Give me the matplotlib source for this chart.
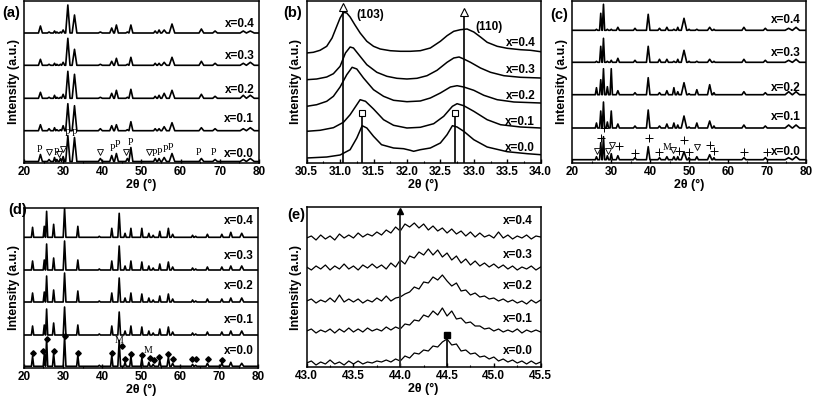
import numpy as np
import matplotlib
matplotlib.use("Agg")
from matplotlib import pyplot as plt

plt.rcParams['font.family'] = ['Liberation Sans', 'DejaVu Sans']

comps = ["x=0.4", "x=0.3", "x=0.2", "x=0.1", "x=0.0"]

# ---------- panel (a): peak positions, widths and heights for each x ----------
pos_a = [24.2, 26.4, 27.8, 28.4, 29.3, 30.0, 31.2, 32.9, 39.5, 42.4, 43.6,
         46.4, 47.3, 53.5, 54.5, 55.8, 57.8, 65.3, 68.8, 76.0, 77.8]
wid_a = [0.5, 0.4, 0.3, 0.3, 0.3, 0.4, 0.55, 0.6, 0.5, 0.5, 0.5,
         0.4, 0.5, 0.4, 0.4, 0.6, 0.7, 0.6, 0.6, 0.8, 1.0]
hts_a = [
    [7, 1, 2, 1, 1, 3, 28, 18, 1, 5, 8, 1, 8, 2, 3, 3, 9, 4, 2, 2, 2],
    [6, 1, 2, 1, 1, 3, 27, 16, 1, 4, 7, 1, 8, 2, 2, 3, 8, 4, 2, 2, 3],
    [6, 1, 3, 1, 1, 4, 27, 24, 1, 5, 8, 1, 9, 2, 3, 5, 8, 4, 2, 3, 3],
    [6, 2, 3, 1, 1, 5, 27, 25, 2, 5, 6, 1, 9, 2, 2, 4, 8, 3, 2, 2, 3],
    [7, 2, 4, 2, 3, 5, 26, 24, 3, 6, 8, 3, 14, 3, 3, 4, 8, 3, 2, 2, 3],
]
base_a = [130, 97.7, 64.7, 32.3, 1.5]
lab_a = [139, 107, 73, 44, 9]
mk_a_x = [24.0, 26.5, 28.2, 29.0, 29.9, 31.1, 32.8, 39.4, 42.5, 43.8, 46.0,
          47.2, 52.0, 53.2, 54.5, 56.0, 57.3, 64.6, 68.3]
mk_a_y = [12, 9.4, 9, 8, 12.7, 27.7, 27.7, 10, 12.7, 16.7, 10,
          18.7, 9.4, 7.7, 9.4, 12, 14.4, 9.4, 9.4]
mk_a_s = ["P", "v", "P", "v", "v", "P", "P", "v", "P", "P", "v",
          "P", "v", "P", "P", "P", "P", "P", "P"]

# ---------- panel (b): traced curves ----------
bx = [
    [30.5, 30.6, 30.7, 30.8, 30.88, 30.95, 31.0, 31.05, 31.1, 31.15, 31.22, 31.3,
     31.4, 31.5, 31.6, 31.75, 31.9, 32.05, 32.2, 32.35, 32.5, 32.6, 32.7, 32.8,
     32.9, 33.0, 33.1, 33.2, 33.35, 33.5, 33.7, 33.85, 34.0],
    [30.5, 30.65, 30.8, 30.9, 31.0, 31.08, 31.15, 31.2, 31.28, 31.4, 31.55, 31.7,
     31.85, 32.0, 32.15, 32.3, 32.45, 32.6, 32.7, 32.78, 32.85, 32.95, 33.1,
     33.25, 33.45, 33.7, 34.0],
    [30.5, 30.65, 30.8, 30.9, 31.0, 31.1, 31.18, 31.25, 31.35, 31.5, 31.65, 31.8,
     32.0, 32.2, 32.35, 32.5, 32.65, 32.75, 32.85, 33.0, 33.15, 33.35, 33.6, 34.0],
    [30.5, 30.7, 30.9, 31.05, 31.15, 31.25, 31.3, 31.38, 31.5, 31.65, 31.8, 32.0,
     32.2, 32.4, 32.55, 32.68, 32.75, 32.85, 33.0, 33.2, 33.4, 33.7, 34.0],
    [30.5, 30.8, 31.0, 31.15, 31.25, 31.33, 31.4, 31.5, 31.62, 31.8, 31.95, 32.05,
     32.1, 32.2, 32.35, 32.5, 32.6, 32.68, 32.75, 32.85, 33.0, 33.2, 33.5, 33.8, 34.0],
]
by = [
    [110, 110.7, 112.7, 116.7, 125, 136.7, 145, 150.7, 150, 146, 138.3, 130,
     121.7, 116.7, 114, 112.3, 111.7, 111.7, 112.3, 115, 121.7, 127.3, 131.7, 133.3,
     134, 131, 126, 120.7, 116.7, 114.7, 113.3, 112.7, 111.3],
    [83.3, 84, 86, 89.3, 96.7, 110, 116, 115, 108.3, 98.3, 90.7, 86.7,
     84.7, 84, 84.7, 87.3, 92.7, 100.7, 105, 106, 104, 100.7, 95,
     90.7, 87.3, 85.7, 85],
    [56.7, 58.3, 61.7, 66.7, 76, 88.3, 95.7, 94, 85, 73.3, 66.7, 62.7,
     61.3, 62, 65, 70, 76, 77.3, 76, 72.7, 67.7, 63.3, 61, 60],
    [31.7, 32.7, 35.3, 40.7, 48.3, 58.3, 63.3, 61.7, 54, 43.3, 37.7, 35,
     35.7, 39.3, 46.7, 56.7, 59.3, 57.3, 51.7, 43.3, 38.3, 36, 35],
    [5, 6, 8, 13.3, 25, 37.3, 35, 26.7, 18.3, 15, 14.3, 12.7,
     11.7, 13.3, 15, 20, 28.3, 37.3, 36, 31.7, 23.3, 16, 11.3, 9.3, 8.3],
]
lab_b = [120, 92.7, 66.7, 40.7, 15]

# ---------- panel (c) ----------
pos_c = [26.2, 27.3, 28.0, 29.0, 30.0, 31.7, 36.1, 39.5, 42.4, 44.3, 46.1,
         47.1, 48.7, 50.0, 52.0, 55.3, 56.4, 64.1, 69.6, 75.6, 77.5]
wid_c = [0.3, 0.3, 0.3, 0.3, 0.3, 0.4, 0.4, 0.45, 0.4, 0.4, 0.35,
         0.3, 0.7, 0.3, 0.4, 0.55, 0.3, 0.5, 0.5, 0.9, 0.9]
hts_c = [
    [1, 17, 26, 1, 1, 3, 2, 16, 2, 3, 1, 3, 12, 1, 1, 3, 1, 3, 2, 2, 3],
    [1, 16, 24, 1, 2, 4, 2, 16, 3, 3, 1, 3, 12, 1, 1, 3, 1, 3, 2, 2, 3],
    [7, 15, 26, 8, 26, 4, 2, 17, 2, 4, 7, 3, 12, 1, 5, 10, 2, 3, 2, 3, 3],
    [5, 17, 26, 6, 17, 4, 2, 18, 2, 4, 5, 3, 12, 1, 5, 7, 2, 3, 2, 3, 3],
    [3, 17, 23, 4, 6, 4, 2, 13, 2, 3, 3, 3, 8, 2, 3, 5, 2, 2, 2, 2, 3],
]
base_c = [132.7, 100.7, 68.3, 35, 3.3]
lab_c = [142.7, 110, 75, 46, 10.7]
mk_c_x = [26.3, 27.3, 28.2, 29.1, 30.1, 32.1, 36.1, 39.6, 42.4, 44.3, 46.0,
          47.3, 48.8, 50.1, 52.0, 55.4, 56.4, 64.0, 70.0]
mk_c_y = [8.3, 21.7, 31.7, 8.3, 15, 13.3, 6.7, 21.7, 7.7, 12.7, 10,
          8.3, 20, 7.7, 12.7, 15, 8.3, 7.3, 7.3]
mk_c_s = ["v", "+", "+", "v", "v", "+", "+", "+", "+", "M", "v",
          "+", "+", "+", "v", "+", "+", "+", "+"]

# ---------- panel (d) ----------
pos_d = [22.2, 25.2, 25.8, 27.6, 30.4, 33.8, 39.3, 42.5, 44.4, 45.9, 47.4, 50.2,
         52.0, 53.1, 54.8, 57.0, 58.1, 63.2, 64.0, 67.0, 70.7, 73.0, 75.8]
wid_d = [0.3, 0.28, 0.28, 0.3, 0.35, 0.3, 0.3, 0.3, 0.35, 0.3, 0.3, 0.3,
         0.3, 0.3, 0.3, 0.35, 0.35, 0.3, 0.3, 0.35, 0.35, 0.4, 0.5]
hts_d = [
    [10, 11, 26, 13, 29, 11, 1, 9, 24, 4, 9, 9, 4, 2, 6, 9, 3, 2, 1, 3, 3, 5, 4],
    [9, 10, 26, 12, 29, 10, 1, 9, 24, 4, 9, 8, 4, 2, 6, 8, 3, 2, 1, 3, 3, 4, 4],
    [9, 10, 26, 12, 29, 11, 1, 9, 24, 4, 9, 8, 4, 2, 6, 8, 3, 2, 1, 3, 3, 4, 4],
    [9, 10, 26, 12, 28, 10, 1, 9, 23, 4, 9, 8, 4, 2, 6, 8, 3, 2, 1, 3, 3, 4, 4],
    [10, 12, 28, 13, 30, 11, 1, 11, 26, 4, 10, 8, 4, 2, 6, 9, 3, 2, 1, 3, 3, 4, 3],
]
base_d = [130.7, 98, 66, 33, 1.7]
lab_d = [146.7, 112.3, 81.7, 48.3, 17.3]
dia_x = [22.2, 25.0, 25.8, 27.6, 30.4, 33.8, 42.5, 45.1, 46.0, 47.4, 50.2, 52.3,
         53.2, 54.7, 56.9, 58.1, 63.0, 64.0, 67.2, 70.8]
dia_y = [13.3, 15.7, 27.7, 15, 30, 13.3, 13.3, 20, 7.7, 12.3, 11.7, 8.3,
         6, 9, 12.3, 7.3, 7.3, 7.3, 7.3, 6.7]
m_d_x = [44.3, 51.9]
m_d_y = [25.7, 15.7]

# ---------- panel (e): traced noisy curves, 43.0 to 45.5 every 0.05 ----------
ex = np.linspace(43.0, 45.5, 51)
ey = [
    [129, 131, 127, 132, 128, 131, 127, 133, 129, 132, 129,
     134, 130, 133, 131, 135, 132, 137, 134, 140, 136,
     143, 140, 144, 139, 143, 137, 141, 136, 139, 134,
     138, 133, 136, 131, 135, 130, 134, 130, 132, 129,
     135, 129, 132, 128, 131, 129, 132, 128, 131, 130],
    [100, 97, 101, 98, 102, 97, 101, 98, 103, 98, 101,
     97, 102, 99, 103, 99, 102, 98, 104, 100, 107,
     103, 111, 109, 115, 112, 118, 112, 117, 110, 114,
     107, 111, 104, 108, 102, 106, 101, 104, 100, 103,
     99, 102, 98, 101, 97, 100, 98, 101, 97, 100],
    [66, 68, 64, 67, 65, 69, 65, 72, 65, 68, 65,
     68, 64, 67, 65, 69, 66, 71, 66, 69, 70,
     73, 75, 80, 78, 85, 84, 90, 87, 92, 86,
     81, 84, 76, 77, 72, 74, 70, 71, 68, 69,
     66, 68, 65, 67, 64, 66, 63, 67, 64, 67],
    [36, 38, 34, 37, 35, 38, 34, 38, 35, 39, 35,
     38, 35, 39, 36, 38, 36, 40, 37, 40, 38,
     43, 42, 47, 46, 52, 50, 56, 52, 59, 51,
     56, 48, 49, 44, 45, 41, 41, 38, 39, 36,
     38, 35, 37, 35, 38, 34, 37, 35, 37, 35],
    [4, 6, 2, 5, 3, 7, 3, 5, 2, 6, 3,
     6, 3, 5, 4, 6, 5, 7, 5, 8, 6,
     11, 9, 14, 13, 17, 16, 21, 20, 25, 28,
     22, 23, 16, 17, 13, 14, 10, 11, 8, 10,
     6, 8, 5, 7, 4, 6, 3, 6, 3, 5],
]
lab_e = [145.7, 112.3, 80.7, 48.3, 16.3]


def sticks(pos, wid, hts, lo, hi):
    xs, ys = [lo], [0]
    for p, w, h in sorted(zip(pos, wid, hts)):
        xs += [p - w, p, p + w]
        ys += [0, h, 0]
    xs.append(hi)
    ys.append(0)
    return np.array(xs), np.array(ys)


def setup(ax, xlim, major, minor, ylim, fmt):
    ax.set_xlim(xlim)
    ax.set_ylim(ylim)
    ax.set_xticks(major)
    ax.set_xticks(minor, minor=True)
    ax.set_xticklabels([fmt % v for v in major], fontweight='bold', fontsize=8.5)
    ax.set_yticks([])
    ax.tick_params(axis='x', which='major', direction='in', length=3, width=1, pad=2)
    ax.tick_params(axis='x', which='minor', direction='in', length=1.5, width=0.8)
    for s in ax.spines.values():
        s.set_linewidth(1.1)
    ax.set_xlabel('2θ (°)', fontweight='bold', fontsize=9, labelpad=1)
    ax.set_ylabel('Intensity (a.u.)', fontweight='bold', fontsize=9, labelpad=3)


def labels(ax, xr, ys):
    for name, y in zip(comps, ys):
        ax.text(xr, y, name, ha='right', va='center', fontsize=8.5, fontweight='bold')


fig = plt.figure(figsize=(8.13, 4.0), dpi=100)
ax_a = fig.add_axes([0.0295, 0.5925, 0.289, 0.405])
ax_b = fig.add_axes([0.3772, 0.5925, 0.2878, 0.405])
ax_c = fig.add_axes([0.704, 0.5925, 0.2871, 0.405])
ax_d = fig.add_axes([0.0295, 0.08, 0.288, 0.40])
ax_e = fig.add_axes([0.3772, 0.0825, 0.2878, 0.40])

tick10 = [20, 30, 40, 50, 60, 70, 80]
minor10 = [25, 35, 45, 55, 65, 75]

# (a)
for h, b in zip(hts_a, base_a):
    xs, ys = sticks(pos_a, wid_a, h, 20, 80)
    ax_a.plot(xs, ys + b, color='black', lw=1.2)
for x, y, s in zip(mk_a_x, mk_a_y, mk_a_s):
    if s == "v":
        ax_a.plot(x, y + base_a[4], marker='v', ms=4.5, mfc='white', mec='black', mew=0.6)
    else:
        ax_a.text(x, y + base_a[4], s, ha='center', va='center', fontsize=7,
                  family='Liberation Serif')
labels(ax_a, 78.8, lab_a)
setup(ax_a, (20, 80), tick10, minor10, (0, 162), '%d')

# (b)
for xs, ys in zip(bx, by):
    ax_b.plot(xs, ys, color='black', lw=1.1)
ax_b.plot([31.05, 31.05], [0, 155], color='black', lw=1.2)
ax_b.plot([32.85, 32.85], [0, 150], color='black', lw=1.2)
ax_b.plot([31.05, 32.85], [156, 151], ls='none', marker='^', ms=6, mfc='white', mec='black', mew=0.8)
ax_b.plot([31.33, 31.33], [0, 49], color='black', lw=1.2)
ax_b.plot([32.72, 32.72], [0, 49], color='black', lw=1.2)
ax_b.plot([31.33, 32.72], [50, 50], ls='none', marker='s', ms=5, mfc='white', mec='black', mew=0.8)
ax_b.text(31.45, 148, '(103)', ha='center', va='center', fontsize=8.5, fontweight='bold')
ax_b.text(33.22, 136, '(110)', ha='center', va='center', fontsize=8.5, fontweight='bold')
labels(ax_b, 33.92, lab_b)
setup(ax_b, (30.5, 34.0), [30.5, 31.0, 31.5, 32.0, 32.5, 33.0, 33.5, 34.0],
      [30.75, 31.25, 31.75, 32.25, 32.75, 33.25, 33.75], (0, 162), '%.1f')

# (c)
for h, b in zip(hts_c, base_c):
    xs, ys = sticks(pos_c, wid_c, h, 20, 80)
    ax_c.plot(xs, ys + b, color='black', lw=1.2)
for x, y, s in zip(mk_c_x, mk_c_y, mk_c_s):
    if s == "v":
        ax_c.plot(x, y + base_c[4], marker='v', ms=4.5, mfc='white', mec='black', mew=0.6)
    elif s == "+":
        ax_c.plot(x, y + base_c[4], marker='+', ms=5.5, color='black', mew=0.7)
    else:
        ax_c.text(x, y + base_c[4], s, ha='center', va='center', fontsize=7,
                  family='Liberation Serif')
labels(ax_c, 78.8, lab_c)
setup(ax_c, (20, 80), tick10, minor10, (0, 162), '%d')

# (d)
for h, b in zip(hts_d, base_d):
    xs, ys = sticks(pos_d, wid_d, h, 20, 80)
    ax_d.plot(xs, ys + b, color='black', lw=1.2)
ax_d.plot(dia_x, np.array(dia_y) + base_d[4], ls='none', marker='D', ms=2.8, color='black')
for x, y in zip(m_d_x, m_d_y):
    ax_d.text(x, y + base_d[4], 'M', ha='center', va='center', fontsize=7,
              family='Liberation Serif')
labels(ax_d, 78.8, lab_d)
setup(ax_d, (20, 80), tick10, minor10, (0, 160), '%d')

# (e)
for ys in ey:
    ax_e.plot(ex, ys, color='black', lw=0.9)
ax_e.plot([44.0, 44.0], [0, 155], color='#333333', lw=1.4)
ax_e.plot(44.0, 156, marker='^', ms=5, color='black')
ax_e.plot([44.5, 44.5], [0, 31], color='black', lw=1.2)
ax_e.plot(44.5, 32.3, marker='s', ms=4.5, color='black')
labels(ax_e, 45.42, lab_e)
setup(ax_e, (43.0, 45.5), [43.0, 43.5, 44.0, 44.5, 45.0, 45.5],
      [43.25, 43.75, 44.25, 44.75, 45.25], (0, 160), '%.1f')

# panel letters
for x, y, t in [(2, 13, '(a)'), (283, 13, '(b)'), (550, 15, '(c)'), (8, 210, '(d)'), (287, 215, '(e)')]:
    fig.text(x / 813, 1 - y / 400, t, ha='left', va='center', fontsize=10.5, fontweight='bold')

fig.savefig('out.png', dpi=100)
